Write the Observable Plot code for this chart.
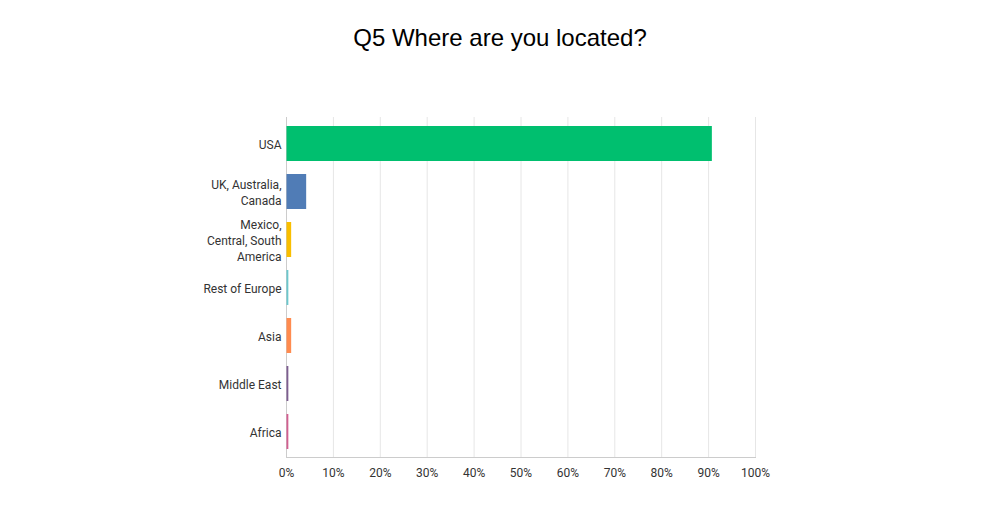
<!DOCTYPE html>
<html>
<head>
<meta charset="utf-8">
<script src="https://cdn.jsdelivr.net/npm/d3@7"></script>
<script src="https://cdn.jsdelivr.net/npm/@observablehq/plot@0.6"></script>
<style>
  body { margin: 0; background: #fff; width: 1000px; height: 530px; overflow: hidden; }
  #title { height: 70px; text-align: center; font-family: "Liberation Sans", Arial, sans-serif; font-size: 24px; color: #000; line-height: 76px; }
</style>
</head>
<body>
<div id="title">Q5 Where are you located?</div>
<div id="chart"></div>
<script>
const categories = ["USA", "UK, Australia,\nCanada", "Mexico,\nCentral, South\nAmerica", "Rest of Europe", "Asia", "Middle East", "Africa"];
const values = [0.908, 0.043, 0.011, 0.005, 0.011, 0.005, 0.005];
const colors = ["#00BF6F", "#507CB6", "#F9BE00", "#6BC8CD", "#FF8B4F", "#7D5E90", "#D25F90"];
const xTicks = [0, 0.1, 0.2, 0.3, 0.4, 0.5, 0.6, 0.7, 0.8, 0.9, 1];

const data = categories.map((c, i) => ({ category: c, value: values[i], color: colors[i] }));

const chart = Plot.plot({
  width: 1000,
  height: 460,
  marginTop: 47,
  marginBottom: 73,
  marginLeft: 286,
  marginRight: 245,
  style: { fontFamily: "Roboto, 'Open Sans', sans-serif", fontSize: "12px", color: "#333" },
  x: { domain: [0, 1] },
  y: { domain: categories, paddingInner: 0.28, paddingOuter: 0.12 },
  marks: [
    Plot.gridX(xTicks, { stroke: "#e6e6e6", strokeOpacity: 1 }),
    Plot.ruleX([0], { stroke: "#cccccc" }),
    Plot.frame({ anchor: "bottom", stroke: "#cccccc" }),
    Plot.barX(data, { x: "value", y: "category", fill: "color", insetLeft: 0.5 }),
    Plot.axisX(xTicks, { tickFormat: d => Math.round(d * 100) + "%", tickSize: 0, tickPadding: 11, label: null, fill: "#333", fontSize: 12 }),
    Plot.axisY({ tickSize: 0, tickPadding: 5, label: null, lineHeight: 1.35, fill: "#333", fontSize: 12 })
  ]
});
document.getElementById("chart").appendChild(chart);
</script>
</body>
</html>
